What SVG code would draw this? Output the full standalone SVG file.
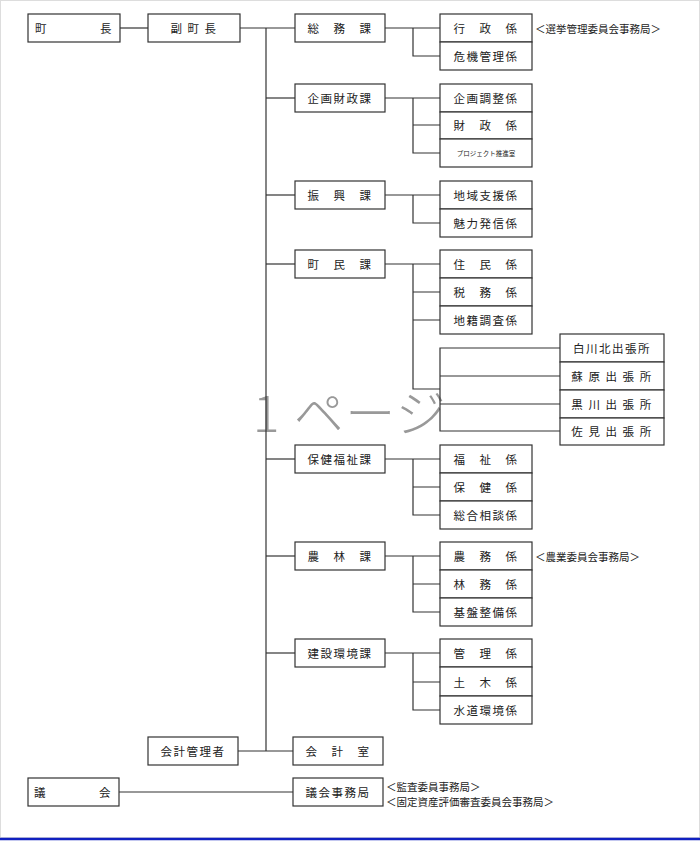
<svg xmlns="http://www.w3.org/2000/svg" width="700" height="841" viewBox="0 0 700 841">
<style>
rect.b{fill:#fff;stroke:#333;stroke-width:1.2}
text{font-family:"Noto Sans CJK JP",sans-serif;font-size:11.5px;fill:#222;text-anchor:middle;dominant-baseline:central;letter-spacing:1.5px}
text.n{text-anchor:start;font-size:10.5px;letter-spacing:0}
.c line,.c path{stroke:#333;stroke-width:1.2;fill:none}
</style>
<rect x="0" y="0" width="700" height="841" fill="#fff"/>
<rect x="0.5" y="0.5" width="699" height="837" fill="none" stroke="#ddd"/>
<line x1="0" y1="839" x2="700" y2="839" stroke="#1020c0" stroke-width="2.5"/>
<text x="350" y="410" style="font-size:50px;fill:#999;font-family:'Noto Sans CJK JP',sans-serif" font-weight="300" letter-spacing="8">1 ページ</text>
<g class="c">
<line x1="120" y1="28" x2="148" y2="28"/>
<line x1="240" y1="28" x2="295" y2="28"/>
<line x1="266" y1="28" x2="266" y2="751"/>
<line x1="266" y1="98" x2="295" y2="98"/>
<line x1="266" y1="195" x2="295" y2="195"/>
<line x1="266" y1="264" x2="295" y2="264"/>
<line x1="266" y1="459" x2="295" y2="459"/>
<line x1="266" y1="556" x2="295" y2="556"/>
<line x1="266" y1="653" x2="295" y2="653"/>
<line x1="238" y1="751" x2="293" y2="751"/>
<line x1="385" y1="28" x2="440" y2="28"/><path d="M413 28V56H440"/>
<line x1="385" y1="98" x2="440" y2="98"/><path d="M413 98V153H440M413 125H440"/>
<line x1="385" y1="195" x2="440" y2="195"/><path d="M413 195V223H440"/>
<line x1="385" y1="264" x2="440" y2="264"/><path d="M413 264V389H440M413 292H440M413 320H440"/>
<path d="M560 348H440V431H560M440 376H560M440 404H560"/>
<line x1="385" y1="459" x2="440" y2="459"/><path d="M413 459V515H440M413 487H440"/>
<line x1="385" y1="556" x2="440" y2="556"/><path d="M413 556V612H440M413 584H440"/>
<line x1="385" y1="653" x2="440" y2="653"/><path d="M413 653V710H440M413 682H440"/>
<line x1="119" y1="792" x2="293" y2="792"/>
</g>
<g id="chocho"><rect class="b" x="28" y="14" width="92" height="28"/><text x="74" y="28" xml:space="preserve">町　　　　長</text></g>
<g id="fukuchocho"><rect class="b" x="148" y="14" width="92" height="28"/><text x="194" y="28">副 町 長</text></g>
<g id="somu"><rect class="b" x="295" y="14" width="90" height="28"/><text x="340" y="28">総　務　課</text></g>
<g id="gyosei"><rect class="b" x="440" y="14" width="92" height="28"/><text x="486" y="28">行　政　係</text></g>
<text class="n" x="535" y="28">＜選挙管理委員会事務局＞</text>
<g id="kiki"><rect class="b" x="440" y="42" width="92" height="28"/><text x="486" y="56">危機管理係</text></g>
<g id="kikaku"><rect class="b" x="295" y="84" width="90" height="28"/><text x="340" y="98">企画財政課</text></g>
<g id="kikakuchosei"><rect class="b" x="440" y="84" width="92" height="28"/><text x="486" y="98">企画調整係</text></g>
<g id="zaisei"><rect class="b" x="440" y="112" width="92" height="27"/><text x="486" y="125">財　政　係</text></g>
<g id="project"><rect class="b" x="440" y="139" width="92" height="28"/><text x="486" y="153" style="font-size:6.5px;letter-spacing:0">プロジェクト推進室</text></g>
<g id="shinko"><rect class="b" x="295" y="181" width="90" height="28"/><text x="340" y="195">振　興　課</text></g>
<g id="chiiki"><rect class="b" x="440" y="181" width="92" height="28"/><text x="486" y="195">地域支援係</text></g>
<g id="miryoku"><rect class="b" x="440" y="209" width="92" height="28"/><text x="486" y="223">魅力発信係</text></g>
<g id="chomin"><rect class="b" x="295" y="250" width="90" height="28"/><text x="340" y="264">町　民　課</text></g>
<g id="jumin"><rect class="b" x="440" y="250" width="92" height="28"/><text x="486" y="264">住　民　係</text></g>
<g id="zeimu"><rect class="b" x="440" y="278" width="92" height="28"/><text x="486" y="292">税　務　係</text></g>
<g id="chiseki"><rect class="b" x="440" y="306" width="92" height="28"/><text x="486" y="320">地籍調査係</text></g>
<g id="shirakawa"><rect class="b" x="560" y="334" width="104" height="28"/><text x="612" y="348">白川北出張所</text></g>
<g id="sohara"><rect class="b" x="560" y="362" width="104" height="28"/><text x="612" y="376">蘇 原 出 張 所</text></g>
<g id="kurokawa"><rect class="b" x="560" y="390" width="104" height="28"/><text x="612" y="404">黒 川 出 張 所</text></g>
<g id="sami"><rect class="b" x="560" y="418" width="104" height="27"/><text x="612" y="431">佐 見 出 張 所</text></g>
<g id="hoken"><rect class="b" x="295" y="445" width="90" height="28"/><text x="340" y="459">保健福祉課</text></g>
<g id="fukushi"><rect class="b" x="440" y="445" width="92" height="28"/><text x="486" y="459">福　祉　係</text></g>
<g id="kenko"><rect class="b" x="440" y="473" width="92" height="28"/><text x="486" y="487">保　健　係</text></g>
<g id="sogo"><rect class="b" x="440" y="501" width="92" height="28"/><text x="486" y="515">総合相談係</text></g>
<g id="norin"><rect class="b" x="295" y="542" width="90" height="28"/><text x="340" y="556">農　林　課</text></g>
<g id="nomu"><rect class="b" x="440" y="542" width="92" height="28"/><text x="486" y="556">農　務　係</text></g>
<text class="n" x="535" y="556">＜農業委員会事務局＞</text>
<g id="rinmu"><rect class="b" x="440" y="570" width="92" height="28"/><text x="486" y="584">林　務　係</text></g>
<g id="kiban"><rect class="b" x="440" y="598" width="92" height="28"/><text x="486" y="612">基盤整備係</text></g>
<g id="kensetsu"><rect class="b" x="295" y="639" width="90" height="28"/><text x="340" y="653">建設環境課</text></g>
<g id="kanri"><rect class="b" x="440" y="639" width="92" height="28"/><text x="486" y="653">管　理　係</text></g>
<g id="doboku"><rect class="b" x="440" y="667" width="92" height="29"/><text x="486" y="682">土　木　係</text></g>
<g id="suido"><rect class="b" x="440" y="696" width="92" height="28"/><text x="486" y="710">水道環境係</text></g>
<g id="kaikeikanri"><rect class="b" x="148" y="737" width="90" height="28"/><text x="193" y="751">会計管理者</text></g>
<g id="kaikeishitsu"><rect class="b" x="293" y="737" width="90" height="28"/><text x="338" y="751">会　計　室</text></g>
<g id="gikai"><rect class="b" x="28" y="778" width="91" height="28"/><text x="73" y="792" xml:space="preserve">議　　　　会</text></g>
<g id="gikaijimu"><rect class="b" x="293" y="778" width="90" height="28"/><text x="338" y="792">議会事務局</text></g>
<text class="n" x="386" y="786">＜監査委員事務局＞</text>
<text class="n" x="386" y="801">＜固定資産評価審査委員会事務局＞</text>
</svg>
